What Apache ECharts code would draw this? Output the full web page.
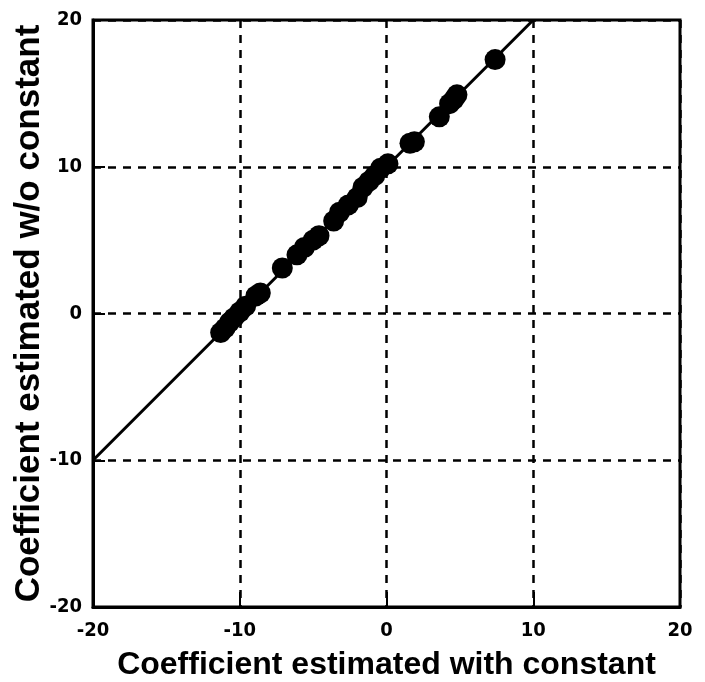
<!DOCTYPE html>
<html>
<head>
<meta charset="utf-8">
<script src="https://cdn.jsdelivr.net/npm/echarts@6/dist/echarts.min.js"></script>
<style>
  html, body { margin: 0; padding: 0; background: #fff; }
  #chart { width: 705px; height: 682px; }
</style>
</head>
<body>
<div id="chart"></div>
<script>
// estimated coefficients
var withConst = [-11.3, -11.0, -10.7, -10.4, -10.0, -9.6, -8.9, -8.6, -7.1, -6.1, -5.6, -5.0, -4.6,
                 -3.6, -3.2, -2.6, -2.0, -1.6, -1.2, -0.8, -0.4, 0.1, 1.6, 1.9, 3.6, 4.3, 4.6, 4.8, 7.4];
var withoutConst = [-1.3, -1.0, -0.6, -0.3, 0.1, 0.5, 1.2, 1.4, 3.1, 4.0, 4.5, 5.0, 5.3,
                    6.3, 6.9, 7.4, 7.9, 8.6, 9.0, 9.4, 9.9, 10.2, 11.6, 11.7, 13.4, 14.3, 14.6, 14.9, 17.3];
var refLine = [[-20, -10], [10, 20]];
var axisMin = -20, axisMax = 20, axisStep = 10;

var points = withConst.map(function (x, i) { return [x, withoutConst[i]]; });

var chart = echarts.init(document.getElementById('chart'));
var font = '"Liberation Sans", Arial, sans-serif';
var narrow = '"DejaVu Sans Condensed", "Liberation Sans", Arial, sans-serif';
var gridDash = { color: '#000', width: 2.5, type: [8, 7] };

chart.setOption({
  animation: false,
  grid: {
    left: 93, right: 25, top: 20, bottom: 75, outerBoundsMode: 'none', containLabel: false,
    show: true, borderColor: '#000', borderWidth: 3
  },
  xAxis: {
    type: 'value', min: axisMin, max: axisMax, interval: axisStep,
    name: 'Coefficient estimated with constant', nameLocation: 'middle', nameGap: 42,
    nameMoveOverlap: false,
    nameTextStyle: { fontFamily: font, fontWeight: 'bold', fontSize: 32, color: '#000' },
    axisLine: { onZero: false, lineStyle: { color: '#000', width: 3 } },
    axisTick: { inside: true, length: 15, lineStyle: { color: '#000', width: 2 } },
    axisLabel: { fontFamily: narrow, fontWeight: 'bold', fontSize: 20, color: '#000', margin: 14 },
    splitLine: { show: true, lineStyle: gridDash }
  },
  yAxis: {
    type: 'value', min: axisMin, max: axisMax, interval: axisStep,
    name: 'Coefficient estimated w/o constant', nameLocation: 'middle', nameGap: 46,
    nameMoveOverlap: false,
    nameTextStyle: { fontFamily: font, fontWeight: 'bold', fontSize: 35, color: '#000' },
    axisLine: { onZero: false, lineStyle: { color: '#000', width: 3 } },
    axisTick: { inside: true, length: 12, lineStyle: { color: '#000', width: 2 } },
    axisLabel: { fontFamily: narrow, fontWeight: 'bold', fontSize: 20, color: '#000', margin: 11 },
    splitLine: { show: true, lineStyle: gridDash }
  },
  series: [
    {
      type: 'line', data: refLine, symbol: 'none', silent: true,
      lineStyle: { color: '#000', width: 3 }
    },
    {
      type: 'scatter', data: points, symbol: 'circle', symbolSize: 21,
      itemStyle: { color: '#000', opacity: 1 }
    }
  ]
});
</script>
</body>
</html>
